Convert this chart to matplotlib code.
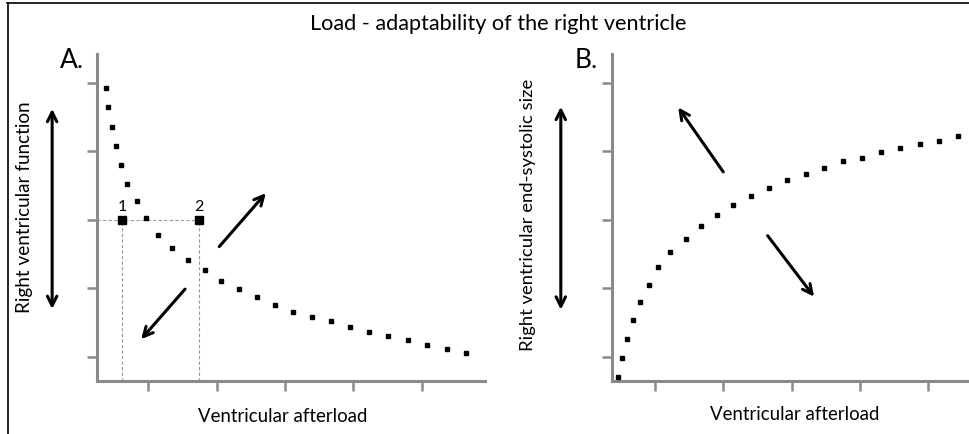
import matplotlib
matplotlib.use("Agg")
import matplotlib.pyplot as plt
from matplotlib.lines import Line2D

plt.rcParams['font.family'] = ['Lato', 'DejaVu Sans']

W, H = 969, 435

# ---- data (axis units: tick marks at 1..5) ----
ticks = [1, 2, 3, 4, 5]

a_x = [0.39, 0.42, 0.47, 0.53, 0.61, 0.69, 0.84, 0.97, 1.15, 1.35, 1.58, 1.83, 2.07,
       2.33, 2.59, 2.85, 3.12, 3.39, 3.67, 3.95, 4.23, 4.50, 4.80, 5.07, 5.37, 5.64]
a_y = [4.93, 4.64, 4.36, 4.08, 3.80, 3.53, 3.28, 3.03, 2.78, 2.59, 2.42, 2.27, 2.11,
       1.99, 1.88, 1.76, 1.66, 1.58, 1.53, 1.44, 1.37, 1.31, 1.25, 1.18, 1.12, 1.06]

a_pts_x = [0.62, 1.74]
a_pts_y = [3.0, 3.0]
a_pts_labels = ['1', '2']

b_x = [0.46, 0.52, 0.59, 0.68, 0.78, 0.91, 1.04, 1.22, 1.45, 1.67, 1.91, 2.14, 2.41,
       2.67, 2.93, 3.21, 3.47, 3.75, 4.03, 4.31, 4.59, 4.88, 5.16, 5.44]
b_y = [0.71, 0.99, 1.26, 1.54, 1.80, 2.05, 2.31, 2.53, 2.72, 2.91, 3.07, 3.22, 3.35,
       3.47, 3.58, 3.67, 3.76, 3.86, 3.91, 3.99, 4.05, 4.11, 4.15, 4.23]

# arrows: (start, end) in axis units
a_arrows = [((2.04, 2.61), (2.72, 3.39)), ((1.54, 1.99), (0.90, 1.26))]
b_arrows = [((2.00, 3.70), (1.34, 4.64)), ((2.65, 2.77), (3.33, 1.88))]
a_double = ((-0.40, 1.70), (-0.40, 4.62))
b_double = ((-0.38, 1.69), (-0.38, 4.65))

title = "Load - adaptability of the right ventricle"
a_ylabel = "Right ventricular function"
b_ylabel = "Right ventricular end-systolic size"
xlabel = "Ventricular afterload"

fig = plt.figure(figsize=(W / 100, H / 100), dpi=100)

def px_axes(left, right, top, bottom):
    return fig.add_axes([left / W, (H - bottom) / H, (right - left) / W, (bottom - top) / H])

axA = px_axes(97, 485, 55, 382)
axB = px_axes(612, 969, 55, 382)

axA.set_xlim(0.255, 5.92)
axA.set_ylim(0.65, 5.42)
axB.set_xlim(0.37, 5.60)
axB.set_ylim(0.65, 5.42)

spine_col = '#8a8a8a'
for ax in (axA, axB):
    for s in ('top', 'right'):
        ax.spines[s].set_visible(False)
    for s in ('left', 'bottom'):
        ax.spines[s].set_color(spine_col)
        ax.spines[s].set_linewidth(2.2)
    ax.set_xticks(ticks)
    ax.set_yticks(ticks)
    ax.set_xticklabels([])
    ax.set_yticklabels([])
    ax.tick_params(direction='out', length=7, width=1.8, color=spine_col)
    ax.patch.set_alpha(0)

# Panel A
dash_kw = dict(color='#9a9a9a', linestyle=(0, (3, 2)), linewidth=0.8, zorder=1)
axA.plot([axA.get_xlim()[0], a_pts_x[1]], [a_pts_y[0], a_pts_y[1]], **dash_kw)
for x, y in zip(a_pts_x, a_pts_y):
    axA.plot([x, x], [axA.get_ylim()[0], y], **dash_kw)

axA.plot(a_x, a_y, 's', color='black', markersize=3.2, linestyle='none', clip_on=False, zorder=3)
axA.plot(a_pts_x, a_pts_y, 's', color='black', markersize=5.5, linestyle='none',
         clip_on=False, zorder=4)
for x, y, lab in zip(a_pts_x, a_pts_y, a_pts_labels):
    axA.text(x, y + 0.1, lab, ha='center', va='bottom', fontsize=11.5)

arrow_kw = dict(arrowstyle='->', color='black', lw=2.2, mutation_scale=17,
                shrinkA=0, shrinkB=0)
for (s, e) in a_arrows:
    axA.annotate('', xy=e, xytext=s, arrowprops=arrow_kw, annotation_clip=False)
for (s, e) in b_arrows:
    axB.annotate('', xy=e, xytext=s, arrowprops=arrow_kw, annotation_clip=False)
dbl_kw = dict(arrow_kw, arrowstyle='<->')
axA.annotate('', xy=a_double[1], xytext=a_double[0], arrowprops=dbl_kw, annotation_clip=False)
axB.annotate('', xy=b_double[1], xytext=b_double[0], arrowprops=dbl_kw, annotation_clip=False)

# Panel B
axB.plot(b_x, b_y, 's', color='black', markersize=3.2, linestyle='none', clip_on=False, zorder=3)

# texts (figure pixel positions)
def ftext(x, y, s, **kw):
    fig.text(x / W, 1 - y / H, s, **kw)

ftext(498, 24, title, ha='center', va='center', fontsize=15.6)
ftext(72, 61, 'A.', ha='center', va='center', fontsize=19)
ftext(586, 61, 'B.', ha='center', va='center', fontsize=19)
ftext(25, 207, a_ylabel, ha='center', va='center', rotation=90, fontsize=13.6)
ftext(528, 215, b_ylabel, ha='center', va='center', rotation=90, fontsize=13.3)
ftext(283, 417, xlabel, ha='center', va='center', fontsize=13.4)
ftext(795, 415, xlabel, ha='center', va='center', fontsize=13.4)

# frame lines (top and left)
fig.add_artist(Line2D([7 / W, 1], [1 - 4 / H, 1 - 4 / H], transform=fig.transFigure,
                      color='black', lw=1.2))
fig.add_artist(Line2D([8 / W, 8 / W], [0, 1 - 4 / H], transform=fig.transFigure,
                      color='black', lw=1.2))

fig.savefig('out.png', dpi=100)
